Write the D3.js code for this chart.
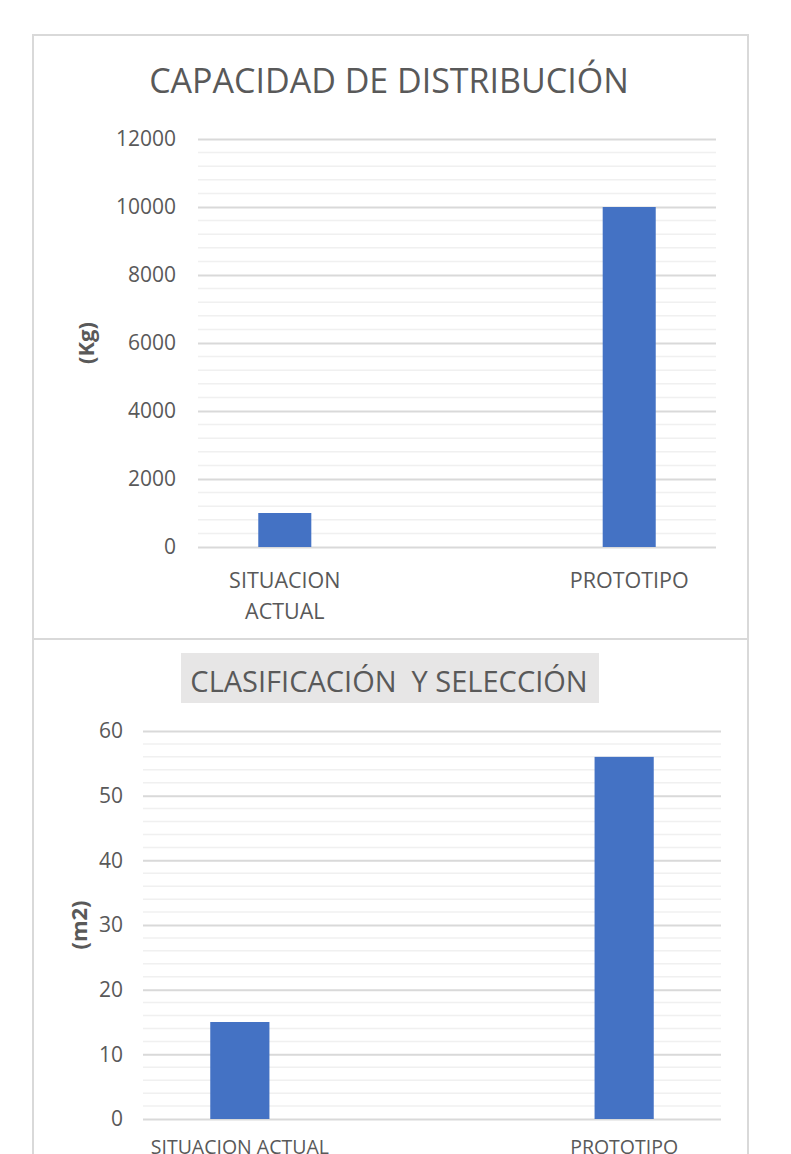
<!DOCTYPE html>
<html>
<head>
<meta charset="utf-8">
<script src="https://cdn.jsdelivr.net/npm/d3@7"></script>
<style>
  body { margin: 0; background: #fff; }
  text { font-family: "Open Sans", sans-serif; fill: #595959; }
</style>
</head>
<body>
<div id="chart"></div>
<script>
// data
const categories = ["SITUACION ACTUAL", "PROTOTIPO"];
const capacidadKg = [1000, 10000];
const superficieM2 = [15, 56];
const kgTicks = [0, 2000, 4000, 6000, 8000, 10000, 12000];
const m2Ticks = [0, 10, 20, 30, 40, 50, 60];

const width = 791;
const height = 1154;

const svg = d3.select("#chart")
                .append("svg")
                    .attr("width", width)
                    .attr("height", height);

function drawChart(opt){
    const g = svg.append("g");

    // chart area border
    g.append("rect")
        .attr("x", opt.box[0])
        .attr("y", opt.box[1])
        .attr("width", opt.box[2])
        .attr("height", opt.box[3])
        .attr("fill", "#fff")
        .attr("stroke", "#d9d9d9")
        .attr("stroke-width", 2);

    const xScale = d3.scaleBand()
                        .domain(categories)
                        .range([opt.left, opt.right])
                        .paddingInner(0.846)
                        .paddingOuter(0.175);
    const yScale = d3.scaleLinear()
                        .domain([0, d3.max(opt.ticks)])
                        .range([opt.bottom, opt.top]);

    // minor grid
    const minor = d3.range(0, d3.max(opt.ticks), opt.minorStep);
    g.selectAll(".minor")
        .data(minor.filter(v => opt.ticks.indexOf(v) < 0))
        .enter()
            .append("line")
                .attr("x1", opt.left)
                .attr("x2", opt.right)
                .attr("y1", d => yScale(d))
                .attr("y2", d => yScale(d))
                .attr("stroke", "#f0f0f0")
                .attr("stroke-width", 1.5);

    // major grid + tick labels
    const yAxis = g.append("g")
                    .attr("transform", `translate(${opt.left}, 0)`)
                    .call(d3.axisLeft(yScale)
                            .tickValues(opt.ticks)
                            .tickSize(-(opt.right - opt.left))
                            .tickPadding(opt.tickPad)
                            .tickFormat(d3.format("d")));
    yAxis.select(".domain").remove();
    yAxis.selectAll("line")
        .attr("stroke", "#d9d9d9")
        .attr("stroke-width", 2);
    yAxis.selectAll("text")
        .attr("font-size", opt.tickFont)
        .attr("fill", "#595959")
        .style("font-family", "'Open Sans', sans-serif");

    g.selectAll(".bar")
        .data(opt.values)
        .enter()
            .append("rect")
                .attr("x", (d, i) => xScale(categories[i]))
                .attr("width", xScale.bandwidth())
                .attr("y", d => yScale(d))
                .attr("height", d => yScale(0) - yScale(d))
                .attr("fill", "#4472c4");

    // category labels
    categories.forEach((c, i) => {
        const cx = xScale(c) + xScale.bandwidth() / 2;
        const lines = opt.wrap ? c.split(" ") : [c];
        lines.forEach((ln, j) => {
            g.append("text")
                .attr("x", cx)
                .attr("y", opt.catY + j * 31)
                .attr("text-anchor", "middle")
                .attr("font-size", opt.catFont)
                .text(ln);
        });
    });

    // title
    if (opt.titleBg){
        g.append("rect")
            .attr("x", opt.titleBg[0])
            .attr("y", opt.titleBg[1])
            .attr("width", opt.titleBg[2])
            .attr("height", opt.titleBg[3])
            .attr("fill", "#e7e6e6");
    }
    g.append("text")
        .attr("x", opt.titleX)
        .attr("y", opt.titleY)
        .attr("text-anchor", "middle")
        .attr("font-size", opt.titleFont)
        .style("white-space", "pre")
        .text(opt.title);

    // y axis title
    g.append("text")
        .text(opt.yLabel)
        .attr("transform", `translate(${opt.yLabelX}, ${(opt.top + opt.bottom) / 2}) rotate(-90)`)
        .attr("text-anchor", "middle")
        .attr("font-size", 22)
        .attr("font-weight", "bold");
}

drawChart({
    box: [33, 35, 715, 604],
    left: 198, right: 716, top: 139, bottom: 547,
    ticks: kgTicks, minorStep: 400, values: capacidadKg,
    tickPad: 22, tickFont: 21,
    catY: 588, catFont: 21.5, wrap: true,
    title: "CAPACIDAD DE DISTRIBUCIÓN", titleX: 389, titleY: 93, titleFont: 34,
    yLabel: "(Kg)", yLabelX: 94
});

drawChart({
    box: [33, 639, 715, 600],
    left: 143, right: 721, top: 731, bottom: 1119,
    ticks: m2Ticks, minorStep: 2, values: superficieM2,
    tickPad: 20, tickFont: 21,
    catY: 1154, catFont: 19.5, wrap: false,
    title: "CLASIFICACIÓN  Y SELECCIÓN", titleX: 389, titleY: 692, titleFont: 29,
    titleBg: [181, 653, 418, 50],
    yLabel: "(m2)", yLabelX: 87
});
</script>
</body>
</html>
